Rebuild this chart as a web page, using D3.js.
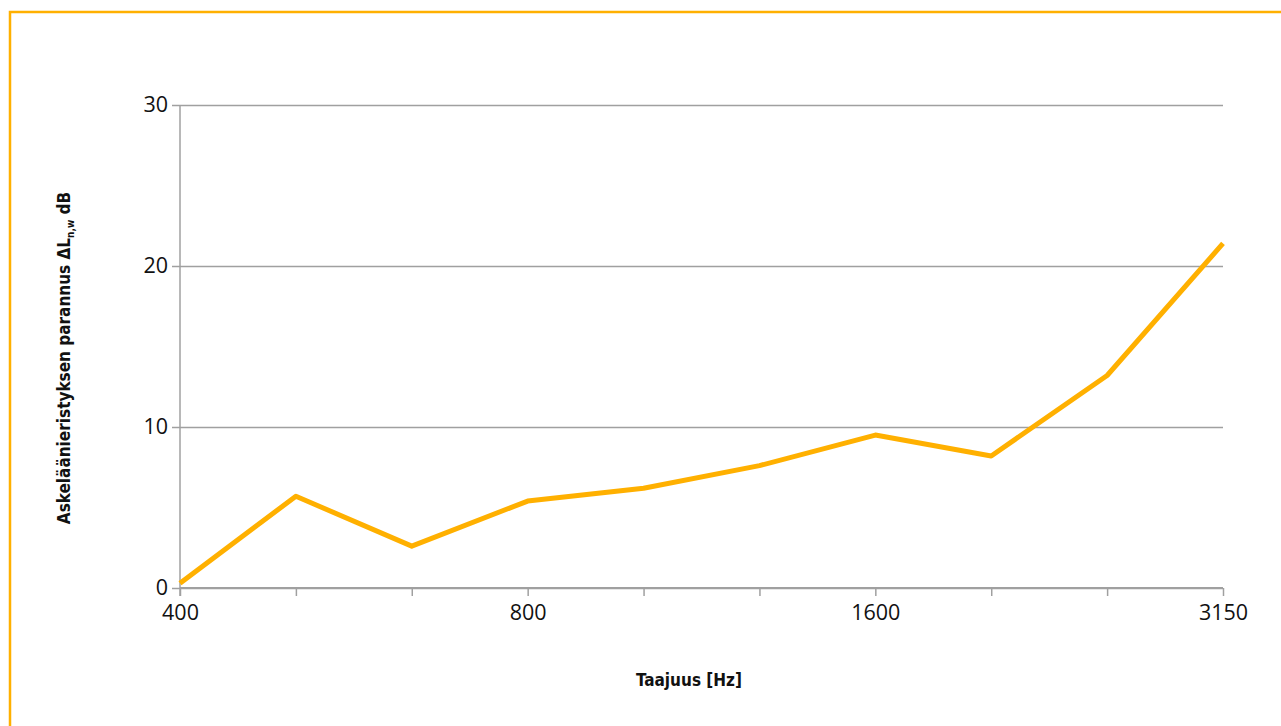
<!DOCTYPE html>
<html>
<head>
<meta charset="utf-8">
<script src="https://cdn.jsdelivr.net/npm/d3@7"></script>
<style>
  html, body { margin: 0; padding: 0; background: #fff; }
  svg { display: block; }
</style>
</head>
<body>
<svg id="chart" width="1281" height="726"></svg>
<script>
// Frequency bands (Hz) and improvement of impact sound insulation (dB)
const frequencies = ["400", "500", "630", "800", "1000", "1250", "1600", "2000", "2500", "3150"];
const improvement = [0.3, 5.7, 2.6, 5.4, 6.2, 7.6, 9.5, 8.2, 13.2, 21.4];
const labelledFrequencies = ["400", "800", "1600", "3150"];
const yTicks = [0, 10, 20, 30];

const svg = d3.select("#chart");
const W = 1281, H = 726;
const margin = { left: 180, right: W - 1223, top: 105, bottom: H - 588 };

// Frame: orange border along top and left edges
svg.append("path")
  .attr("d", `M10,${H} L10,12 L${W},12`)
  .attr("fill", "none")
  .attr("stroke", "#FFB000")
  .attr("stroke-width", 2.5);

const x = d3.scalePoint()
  .domain(frequencies)
  .range([margin.left, W - margin.right]);

const y = d3.scaleLinear()
  .domain([0, 30])
  .range([H - margin.bottom, margin.top]);

const gridColor = "#a0a0a0";
const tickFont = "'Open Sans', 'Liberation Sans', sans-serif";
const tickSize = 21.5;

// Horizontal gridlines with outward tick stubs
const yAxis = d3.axisLeft(y)
  .tickValues(yTicks)
  .tickSize(-(W - margin.left - margin.right))
  .tickPadding(22)
  .tickFormat(d3.format("d"));

const gy = svg.append("g")
  .attr("transform", `translate(${margin.left},0)`)
  .call(yAxis);
gy.select(".domain").remove();
gy.selectAll(".tick line")
  .attr("stroke", gridColor)
  .attr("stroke-width", 1.5)
  .attr("x1", -8);
gy.selectAll(".tick text")
  .attr("x", -12)
  .attr("font-family", tickFont)
  .attr("font-size", tickSize)
  .attr("fill", "#111");

// Vertical axis line
svg.append("line")
  .attr("x1", margin.left).attr("x2", margin.left)
  .attr("y1", y(30)).attr("y2", y(0) + 8)
  .attr("stroke", gridColor)
  .attr("stroke-width", 1.5);

// Category axis along the bottom
const xAxis = d3.axisBottom(x)
  .tickSize(8)
  .tickPadding(9)
  .tickFormat(d => labelledFrequencies.includes(d) ? d : "");

const gx = svg.append("g")
  .attr("transform", `translate(0,${y(0)})`)
  .call(xAxis);
gx.select(".domain")
  .attr("stroke", gridColor)
  .attr("stroke-width", 2)
  .attr("d", `M${margin.left},0H${W - margin.right}`);
gx.selectAll(".tick line")
  .attr("stroke", gridColor)
  .attr("stroke-width", 1.5);
gx.selectAll(".tick text")
  .attr("font-family", tickFont)
  .attr("font-size", tickSize)
  .attr("fill", "#111");

// Data line
const line = d3.line()
  .x((d, i) => x(frequencies[i]))
  .y(d => y(d));

svg.append("path")
  .datum(improvement)
  .attr("d", line)
  .attr("fill", "none")
  .attr("stroke", "#FFB000")
  .attr("stroke-width", 5)
  .attr("stroke-linejoin", "round");

// Axis titles
const titleFont = "'Liberation Sans Narrow', 'DejaVu Sans Condensed', 'Roboto', sans-serif";

svg.append("text")
  .attr("x", 689)
  .attr("y", 686)
  .attr("text-anchor", "middle")
  .attr("font-family", titleFont)
  .attr("font-weight", "bold")
  .attr("font-size", 17)
  .attr("fill", "#111")
  .text("Taajuus [Hz]");

const yTitle = svg.append("text")
  .attr("transform", "translate(70,358) rotate(-90)")
  .attr("text-anchor", "middle")
  .attr("font-family", titleFont)
  .attr("font-weight", "bold")
  .attr("font-size", 17)
  .attr("fill", "#111");
yTitle.append("tspan").text("Askeläänieristyksen parannus \u0394L");
yTitle.append("tspan").attr("font-size", 10).attr("dy", 4).text("n,w");
yTitle.append("tspan").attr("dy", -4).text(" dB");
</script>
</body>
</html>
